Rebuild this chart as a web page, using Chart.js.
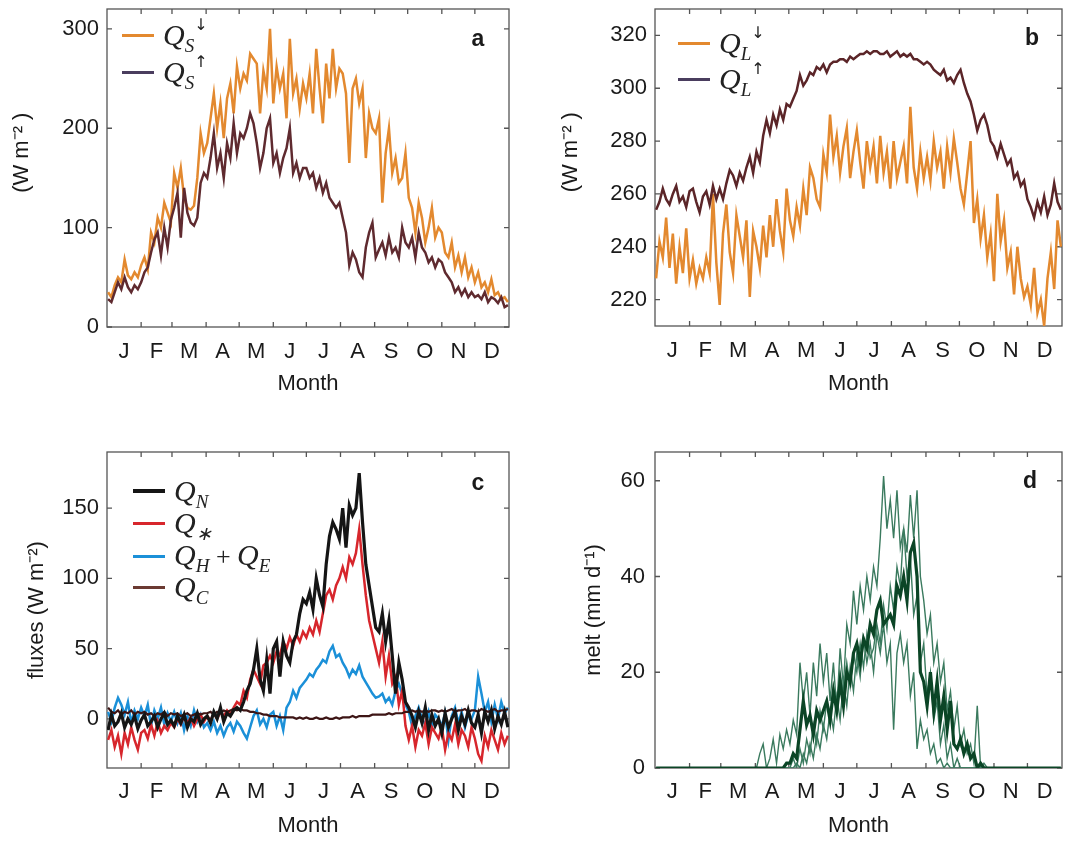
<!DOCTYPE html>
<html>
<head>
<meta charset="utf-8">
<script src="https://cdn.jsdelivr.net/npm/chart.js@4.4.1/dist/chart.umd.min.js"></script>
<style>
  body { margin: 0; background: #fff; font-family: "Liberation Sans", Arial, sans-serif; }
  #page { position: relative; width: 1073px; height: 841px; overflow: hidden; }
  .panel { position: absolute; }
  .leg { position: absolute; height: 30px; display: flex; align-items: center; }
  .sw { display: inline-block; width: 32px; height: 3px; margin-right: 9px; }
  .q { font-family: "Liberation Serif", "Times New Roman", serif; font-style: italic; font-size: 30px; line-height: 30px; color: #222; white-space: nowrap; }
  .q sub { font-size: 19px; vertical-align: -7px; line-height: 0; }
  .q sup { font-size: 16px; vertical-align: 15px; line-height: 0; font-style: normal; font-family: "DejaVu Sans", sans-serif; }
  .q .op { font-style: normal; font-size: 26px; }
  .tag { position: absolute; font-weight: bold; font-size: 23px; color: #1a1a1a; transform: translate(-50%, -50%); }
</style>
</head>
<body>
<div id="page">
  <div class="panel" style="left:0;top:0"><canvas id="chartA" width="540" height="420"></canvas></div>
  <div class="panel" style="left:540px;top:0"><canvas id="chartB" width="533" height="420"></canvas></div>
  <div class="panel" style="left:0;top:420px"><canvas id="chartC" width="540" height="421"></canvas></div>
  <div class="panel" style="left:540px;top:420px"><canvas id="chartD" width="533" height="421"></canvas></div>

  <div class="leg" style="left:122px;top:20px"><i class="sw" style="background:#e3892f"></i><span class="q">Q<sub>S</sub><sup>↓</sup></span></div>
  <div class="leg" style="left:122px;top:57px"><i class="sw" style="background:#4a3d5e"></i><span class="q">Q<sub>S</sub><sup>↑</sup></span></div>

  <div class="leg" style="left:678px;top:28px"><i class="sw" style="background:#e3892f"></i><span class="q">Q<sub>L</sub><sup>↓</sup></span></div>
  <div class="leg" style="left:678px;top:64px"><i class="sw" style="background:#4a3d5e"></i><span class="q">Q<sub>L</sub><sup>↑</sup></span></div>

  <div class="leg" style="left:133px;top:476px"><i class="sw" style="background:#151515;height:4px"></i><span class="q">Q<sub>N</sub></span></div>
  <div class="leg" style="left:133px;top:508px"><i class="sw" style="background:#d7262c"></i><span class="q">Q<sub>∗</sub></span></div>
  <div class="leg" style="left:133px;top:541px"><i class="sw" style="background:#1b90d8"></i><span class="q">Q<sub>H</sub><span class="op"> + </span>Q<sub>E</sub></span></div>
  <div class="leg" style="left:133px;top:572px"><i class="sw" style="background:#6b3a32"></i><span class="q">Q<sub>C</sub></span></div>

  <div class="tag" style="left:478px;top:38px">a</div>
  <div class="tag" style="left:1032px;top:37px">b</div>
  <div class="tag" style="left:478px;top:482px">c</div>
  <div class="tag" style="left:1030px;top:480px">d</div>
</div>

<script>
// day of year for every sample (every third day)
const days = [1,4,7,10,13,16,19,22,25,28,31,34,37,40,43,46,49,52,55,58,61,64,67,70,73,76,79,82,85,88,
  91,94,97,100,103,106,109,112,115,118,121,124,127,130,133,136,139,142,145,148,151,154,157,160,163,166,169,172,175,178,
  181,184,187,190,193,196,199,202,205,208,211,214,217,220,223,226,229,232,235,238,241,244,247,250,253,256,259,262,265,268,271,
  274,277,280,283,286,289,292,295,298,301,304,307,310,313,316,319,322,325,328,331,334,337,340,343,346,349,352,355,358,361,364];

const monthLabels = ["J","F","M","A","M","J","J","A","S","O","N","D"];
const monthStarts = [0,31,59,90,120,151,181,212,243,273,304,334,365];

const ticksA = [0,100,200,300];
const ticksB = [220,240,260,280,300,320];
const ticksC = [0,50,100,150];
const ticksD = [0,20,40,60];

// (a) shortwave
const swDown = [35,30,42,50,45,68,52,48,55,50,62,
  70,58,95,85,110,100,125,115,105,
  155,140,160,130,120,118,122,150,195,175,
  185,210,235,200,225,190,230,245,215,262,
  240,255,248,275,270,265,215,258,240,300,
  225,262,240,255,210,290,235,250,220,245,
  230,255,215,280,240,205,265,230,280,240,260,
  255,235,165,240,250,225,240,170,215,200,
  195,210,125,175,200,155,170,145,150,175,
  130,120,95,125,110,85,100,120,90,100,
  95,75,70,85,60,72,55,70,50,60,
  45,55,40,45,35,48,32,35,28,30,25];
const swUp = [28,25,35,45,38,50,40,35,42,38,45,
  55,60,75,88,95,72,100,80,108,
  120,135,90,140,115,105,102,110,145,155,
  150,170,195,160,175,150,185,170,205,175,
  195,190,200,215,205,185,160,175,200,210,
  165,175,155,170,180,200,155,165,150,160,
  160,150,155,140,150,135,145,130,125,120,125,
  110,95,62,75,68,55,50,80,95,105,
  70,78,85,72,90,75,80,70,100,85,
  80,90,70,95,80,75,65,70,60,68,
  65,55,50,45,35,40,32,38,30,35,
  30,32,28,35,25,30,28,24,30,20,22];

// (b) longwave
const lwDown = [228,242,236,251,232,245,226,240,230,247,228,
  235,226,232,228,236,230,260,234,218,
  245,256,238,230,252,244,236,250,221,246,
  240,232,248,236,252,240,258,246,238,262,
  250,244,255,248,262,252,270,266,258,255,
  275,268,290,274,282,268,278,285,266,276,
  284,272,262,280,270,278,264,282,268,276,262,
  280,266,272,278,264,293,270,262,276,266,
  274,265,280,270,276,262,278,268,281,272,
  262,256,268,280,249,258,243,252,236,245,
  227,260,242,250,232,238,222,240,228,221,
  225,218,232,215,220,210,228,238,224,250,240];
const lwUp = [254,257,262,258,256,260,263,257,259,255,261,
  262,257,253,259,261,256,263,258,262,
  258,264,269,267,263,268,265,270,274,268,
  276,272,282,288,283,290,286,292,288,294,
  293,296,299,305,301,303,306,305,308,307,
  309,306,309,310,310,311,311,310,312,311,
  312,313,313,314,313,314,314,313,313,314,312,
  313,314,312,313,312,313,311,311,310,309,
  310,309,307,306,305,307,303,304,302,305,
  307,302,298,295,290,284,288,290,286,280,
  278,274,279,275,271,273,266,268,263,265,
  258,255,251,257,253,259,252,256,264,257,254];

// (c) energy fluxes
const netFlux = [-8,3,-5,-2,4,-6,0,-4,2,-7,-1,
  3,-5,-2,2,-6,0,4,-4,-1,
  -5,2,-3,3,-6,0,-2,4,-4,0,
  2,-3,5,0,8,-2,4,2,6,8,
  6,12,20,25,35,50,28,20,42,18,
  50,55,30,55,45,40,55,60,75,85,
  82,90,78,100,88,80,110,130,140,135,128,
  150,122,152,145,150,175,140,110,95,80,
  65,62,75,55,70,45,18,40,28,12,
  8,2,-6,5,-3,8,-8,3,-5,0,
  -10,4,-6,0,5,-8,2,-4,6,-3,
  -6,3,-10,5,-2,6,-7,2,-4,5,-6];
const starFlux = [-15,-8,-20,-12,-25,-10,-18,-6,-15,-22,-10,
  -8,-14,-4,-12,-2,-10,-5,-8,-3,
  -6,0,-4,2,-3,1,-5,0,3,-2,
  2,-1,4,0,5,2,6,3,8,12,
  10,20,15,28,35,30,25,38,40,45,
  40,48,45,55,50,58,52,60,55,62,
  58,65,60,70,62,75,88,92,85,95,100,
  108,100,115,110,118,135,110,88,70,60,
  50,40,55,30,45,25,30,10,20,-5,
  -15,-5,-20,-8,-12,-3,-18,-6,-10,-14,
  -6,-22,-10,-15,-4,-18,-8,-12,-20,-6,
  -14,-25,-30,-12,-20,-8,-15,-22,-10,-18,-12];
const turbFlux = [5,-2,8,15,10,3,12,-3,6,0,8,
  2,10,-5,6,0,8,-4,4,-2,
  5,-3,4,-8,2,-5,6,-2,3,-6,
  -3,-8,-2,-10,-5,-12,-6,-3,-9,-2,
  -5,-10,-14,-6,2,6,-4,0,-6,3,
  5,-5,2,-8,8,12,20,15,22,25,
  28,32,30,35,38,42,40,48,52,44,46,
  40,36,30,35,32,38,30,26,22,18,
  15,16,18,12,15,10,20,25,18,10,
  5,-5,2,8,0,-4,5,-6,3,0,
  -5,4,-15,2,8,-3,5,-6,3,0,
  6,30,18,5,12,-2,10,0,12,4,8];
const condFlux = [8,5,4,6,3,5,4,6,3,5,4,
  5,3,4,2,4,3,5,2,4,
  3,4,2,3,4,2,3,4,3,4,
  4,5,3,5,4,6,5,6,7,6,
  7,6,6,5,5,4,4,3,3,2,
  2,2,1,1,1,1,1,0,1,0,
  1,0,0,1,0,0,1,0,0,1,0,
  1,1,1,2,1,2,2,2,2,3,
  3,3,3,3,4,3,4,4,4,5,
  5,6,5,6,5,6,5,6,6,5,
  6,5,6,7,5,6,6,7,5,6,
  6,5,7,6,5,6,7,5,6,6,7];

// (d) melt
const meltMean = [0,0,0,0,0,0,0,0,0,0,0,
  0,0,0,0,0,0,0,0,0,
  0,0,0,0,0,0,0,0,0,0,
  0,0,0,0,0,0,0,0,0,1,
  1,3,2,8,14,9,11,7,12,10,
  12,14,10,16,12,18,13,20,18,24,
  26,22,27,25,30,28,33,35,30,31,32,
  30,38,36,40,35,45,47,40,20,18,
  13,20,12,18,10,15,8,14,5,4,
  6,3,5,2,3,0,1,0,0,0,
  0,0,0,0,0,0,0,0,0,0,
  0,0,0,0,0,0,0,0,0,0,0];
const meltA = [0,0,0,0,0,0,0,0,0,0,0,
  0,0,0,0,0,0,0,0,0,
  0,0,0,0,0,0,0,0,0,0,
  0,3,5,0,2,6,1,7,4,8,
  5,10,7,22,14,20,11,22,15,26,
  18,24,14,22,12,25,17,30,26,37,
  30,38,33,40,35,42,38,48,61,50,56,
  48,58,46,50,40,44,32,36,22,26,
  15,20,10,14,5,9,2,5,0,2,
  0,0,0,0,0,0,0,0,0,0,
  0,0,0,0,0,0,0,0,0,0,
  0,0,0,0,0,0,0,0,0,0,0];
const meltB = [0,0,0,0,0,0,0,0,0,0,0,
  0,0,0,0,0,0,0,0,0,
  0,0,0,0,0,0,0,0,0,0,
  0,0,0,0,0,0,0,0,0,0,
  0,2,0,4,1,6,3,9,5,12,
  8,14,10,17,12,20,15,22,17,24,
  20,26,21,28,23,25,30,26,34,29,38,
  33,42,38,50,45,57,48,58,40,35,
  28,32,22,26,18,22,12,16,8,13,
  5,8,3,5,1,13,0,1,0,0,
  0,0,0,0,0,0,0,0,0,0,
  0,0,0,0,0,0,0,0,0,0,0];
const meltC = [0,0,0,0,0,0,0,0,0,0,0,
  0,0,0,0,0,0,0,0,0,
  0,0,0,0,0,0,0,0,0,0,
  0,0,0,0,0,0,0,0,0,0,
  0,0,1,0,3,1,5,2,7,4,
  9,6,12,8,15,10,18,13,21,16,
  24,19,27,22,26,20,28,24,30,22,26,
  8,24,28,22,26,15,20,4,10,6,
  8,3,5,1,2,0,1,0,0,0,
  0,0,0,0,0,0,0,0,0,0,
  0,0,0,0,0,0,0,0,0,0,
  0,0,0,0,0,0,0,0,0,0,0];

const monthMids = monthLabels.map((m, i) => (monthStarts[i] + monthStarts[i + 1]) / 2);

Chart.defaults.font.family = '"Liberation Sans", Arial, sans-serif';
Chart.defaults.color = "#1a1a1a";

// MATLAB-ish box with inward ticks, drawn under the data
const axisBox = {
  id: "axisBox",
  beforeDatasetsDraw(chart) {
    const { ctx, chartArea: a, scales } = chart;
    ctx.save();
    ctx.strokeStyle = "#555";
    ctx.lineWidth = 1.3;
    ctx.strokeRect(a.left, a.top, a.right - a.left, a.bottom - a.top);
    ctx.beginPath();
    monthStarts.slice(1, -1).forEach((d) => {
      const x = scales.x.getPixelForValue(d);
      ctx.moveTo(x, a.bottom);
      ctx.lineTo(x, a.bottom - 5);
      ctx.moveTo(x, a.top);
      ctx.lineTo(x, a.top + 5);
    });
    scales.y.ticks.forEach((t) => {
      const y = scales.y.getPixelForValue(t.value);
      ctx.moveTo(a.left, y);
      ctx.lineTo(a.left + 5, y);
      ctx.moveTo(a.right, y);
      ctx.lineTo(a.right - 5, y);
    });
    ctx.stroke();
    ctx.restore();
  },
};

function series(values, color, width, order) {
  return {
    data: days.map((d, i) => ({ x: d, y: values[i] })),
    borderColor: color,
    borderWidth: width,
    pointRadius: 0,
    tension: 0,
    fill: false,
    order: order,
  };
}

function makePanel(id, datasets, p) {
  return new Chart(document.getElementById(id), {
    type: "line",
    data: { datasets: datasets },
    plugins: [axisBox],
    options: {
      responsive: false,
      animation: false,
      layout: { padding: { top: p.top, right: p.right, left: 0, bottom: 0 } },
      plugins: { legend: { display: false }, tooltip: { enabled: false } },
      scales: {
        x: {
          type: "linear",
          min: 0,
          max: 365,
          grid: { display: false, drawTicks: false },
          border: { display: false },
          afterBuildTicks: (s) => { s.ticks = monthMids.map((v) => ({ value: v })); },
          ticks: {
            autoSkip: false,
            maxRotation: 0,
            padding: p.xPad,
            font: { size: 22 },
            callback: (v, i) => monthLabels[i],
          },
          title: { display: true, text: "Month", font: { size: 22 }, padding: { top: 0, bottom: p.xTitlePad } },
          afterFit: (s) => {
            s.height = p.xHeight;
            s.paddingLeft = 0;
            s.paddingRight = 0;
          },
        },
        y: {
          type: "linear",
          min: p.yMin,
          max: p.yMax,
          grid: { display: false, drawTicks: false },
          border: { display: false },
          afterBuildTicks: (s) => { s.ticks = p.yTicks.map((v) => ({ value: v })); },
          ticks: { padding: p.yPad, font: { size: 22 } },
          title: { display: true, text: p.yTitle, font: { size: 22 }, padding: { top: p.yTitlePad, bottom: 0 } },
          afterFit: (s) => {
            s.width = p.yWidth;
            s.paddingTop = 0;
            s.paddingBottom = 0;
          },
        },
      },
    },
  });
}

makePanel("chartA", [
  series(swUp, "#5f2a2f", 2.5, 1),
  series(swDown, "#e3892f", 2.5, 2),
], { top: 9, right: 31, xHeight: 93, xPad: 12, xTitlePad: 23, yMin: 0, yMax: 320, yTicks: ticksA,
     yTitle: "     (W m⁻² )", yTitlePad: 9, yWidth: 107, yPad: 8 });

makePanel("chartB", [
  series(lwUp, "#5b2528", 2.5, 1),
  series(lwDown, "#e3892f", 2.5, 2),
], { top: 9, right: 11, xHeight: 94, xPad: 12, xTitlePad: 23, yMin: 210, yMax: 330, yTicks: ticksB,
     yTitle: "     (W m⁻² )", yTitlePad: 18, yWidth: 115, yPad: 8 });

makePanel("chartC", [
  series(netFlux, "#151515", 3.2, 1),
  series(condFlux, "#3d1515", 2.2, 2),
  series(starFlux, "#d7262c", 2.5, 3),
  series(turbFlux, "#1b90d8", 2.5, 4),
], { top: 32, right: 31, xHeight: 73, xPad: 11, xTitlePad: 2, yMin: -35, yMax: 190, yTicks: ticksC,
     yTitle: "fluxes (W m⁻²)", yTitlePad: 24, yWidth: 107, yPad: 8 });

makePanel("chartD", [
  series(meltMean, "#0b4526", 3.2, 1),
  series(meltA, "#3a7a5e", 1.4, 2),
  series(meltB, "#3a7a5e", 1.4, 3),
  series(meltC, "#3a7a5e", 1.4, 4),
], { top: 32, right: 11, xHeight: 73, xPad: 11, xTitlePad: 2, yMin: 0, yMax: 66, yTicks: ticksD,
     yTitle: "melt (mm d⁻¹)", yTitlePad: 41, yWidth: 115, yPad: 10 });
</script>
</body>
</html>
